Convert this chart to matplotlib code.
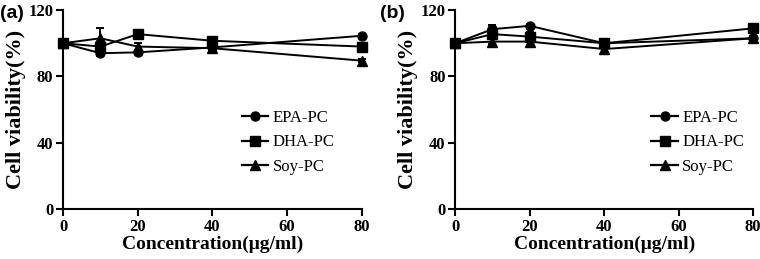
import matplotlib
matplotlib.use('Agg')
import matplotlib.pyplot as plt
from matplotlib.lines import Line2D

conc = [0, 10, 20, 40, 80]
series_names = ['EPA-PC', 'DHA-PC', 'Soy-PC']
markers = ['o', 's', '^']

# panel (a)
a_epa = [100, 94, 94.5, 97.5, 104.5]
a_dha = [100, 98, 105.5, 101.5, 98]
a_soy = [100, 103, 98, 97, 89.5]
a_epa_err = [0, 1.5, 1, 1, 1]
a_dha_err = [0, 2, 1.5, 1, 1]
a_soy_err = [0, 6, 2, 1, 1]

# panel (b)
b_epa = [100, 108.5, 110.5, 100, 103]
b_dha = [100, 105.5, 104, 100, 109]
b_soy = [100, 101, 101, 96.5, 103]
b_epa_err = [0, 2.5, 1, 1, 1]
b_dha_err = [0, 2, 2.5, 1.5, 1.5]
b_soy_err = [0, 1.5, 2.5, 2.5, 1.5]

xticks = [0, 20, 40, 60, 80]
yticks = [0, 40, 80, 120]

serif = 'Liberation Serif'

fig = plt.figure(figsize=(7.6, 2.59), dpi=100)
ax_a = fig.add_axes([0.083, 0.193, 0.393, 0.768])
ax_b = fig.add_axes([0.599, 0.193, 0.392, 0.768])

panels = [
    (ax_a, [a_epa, a_dha, a_soy], [a_epa_err, a_dha_err, a_soy_err], '(a)', 0.0, 0.57),
    (ax_b, [b_epa, b_dha, b_soy], [b_epa_err, b_dha_err, b_soy_err], '(b)', 0.5, 0.63),
]

for ax, ys, errs, tag, fx, lx in panels:
    handles = []
    for name, m, y, e in zip(series_names, markers, ys, errs):
        ax.errorbar(conc, y, yerr=e, color='black', marker=m, ms=6.5,
                    lw=1.4, capsize=3, elinewidth=1.4, capthick=1.4,
                    clip_on=False, zorder=3)
        handles.append(Line2D([], [], color='black', marker=m, ms=6.5,
                              lw=1.6, label=name))
    ax.set_xlim(0, 80)
    ax.set_ylim(0, 120)
    ax.set_xticks(xticks)
    ax.set_yticks(yticks)
    for s in ['top', 'right']:
        ax.spines[s].set_visible(False)
    for s in ['left', 'bottom']:
        ax.spines[s].set_linewidth(1.5)
    ax.tick_params(direction='out', width=1.5, length=5, pad=2)
    for lab in ax.get_xticklabels() + ax.get_yticklabels():
        lab.set_fontfamily(serif)
        lab.set_fontweight('bold')
        lab.set_fontsize(12)
    ax.set_xlabel('Concentration(μg/ml)', family=serif, weight='bold',
                  fontsize=14, labelpad=1)
    ax.set_ylabel('Cell viability(%)', family=serif, weight='bold',
                  fontsize=16, labelpad=2)
    ax.legend(handles=handles, loc='center left', bbox_to_anchor=(lx, 0.335),
              frameon=False, prop={'family': serif, 'size': 12},
              handlelength=1.6, labelspacing=0.5, handletextpad=0.25,
              borderpad=0)
    fig.text(fx + 0.0, 0.93, tag, family='Liberation Sans', weight='bold',
             fontsize=14)

fig.savefig('out.png', dpi=100)
